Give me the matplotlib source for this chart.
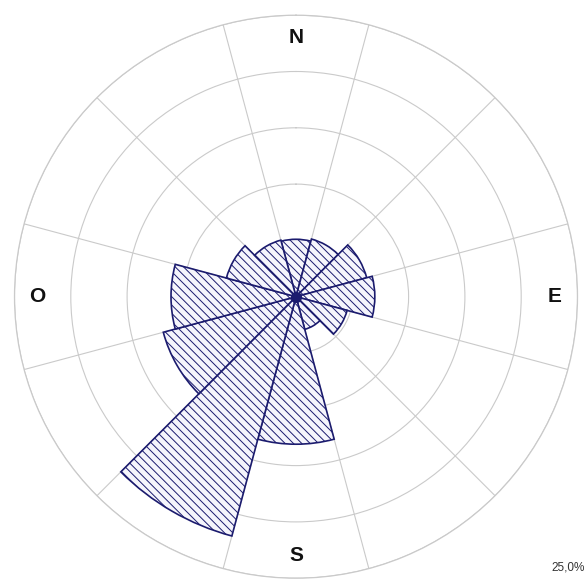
import numpy as np
import matplotlib
matplotlib.use("Agg")
import matplotlib.pyplot as plt

# Data: wind direction frequency (%) per 30-degree sector
directions_deg = [0, 30, 60, 90, 120, 150, 180, 210, 240, 270, 300, 330]
frequency_pct = [5.1, 5.3, 6.5, 7.0, 4.7, 3.0, 13.1, 22.0, 12.2, 11.1, 6.4, 5.2]
ring_values = [5, 10, 15, 20, 25]
cardinal_labels = ["N", "E", "S", "O"]
cardinal_deg = [0, 90, 180, 270]
scale_label = "25,0%"

navy = "#1b1b6e"
grid_c = "#cacaca"

plt.rcParams["hatch.linewidth"] = 0.7
plt.rcParams["font.family"] = ["Liberation Sans", "DejaVu Sans"]

fig = plt.figure(figsize=(5.85, 5.81), dpi=100)
cx, cy, R = 296, 296.7, 281.5
W, H = 585, 581
ax = fig.add_axes([(cx - R) / W, (H - cy - R) / H, 2 * R / W, 2 * R / H],
                  projection="polar")
ax.set_theta_zero_location("N")
ax.set_theta_direction(-1)
ax.set_ylim(0, ring_values[-1])

# Grid: rings and radial lines at sector boundaries
ax.set_yticks(ring_values)
ax.set_yticklabels([])
ax.set_xticks(np.deg2rad(np.arange(15, 360, 30)))
ax.set_xticklabels([])
ax.grid(True, color=grid_c, linewidth=0.8)
ax.spines["polar"].set_color(grid_c)
ax.spines["polar"].set_linewidth(0.9)

theta = np.deg2rad(directions_deg)
width = np.deg2rad(30)
ax.bar(theta, frequency_pct, width=width, bottom=0, facecolor="#f5f5fc",
       edgecolor=navy, linewidth=1.2, hatch="\\\\\\\\", zorder=3)

ax.plot([0], [0], "o", color=navy, markersize=7, zorder=5)

for lab, d in zip(cardinal_labels, cardinal_deg):
    ax.text(np.deg2rad(d), 23.0, lab, ha="center", va="center",
            fontsize=15, fontweight="bold", color="#111111", zorder=6)

fig.text(0.999, 0.024, scale_label, ha="right", va="center", fontsize=8.5,
         color="#333333")

fig.savefig("out.png", dpi=100, facecolor="white")
